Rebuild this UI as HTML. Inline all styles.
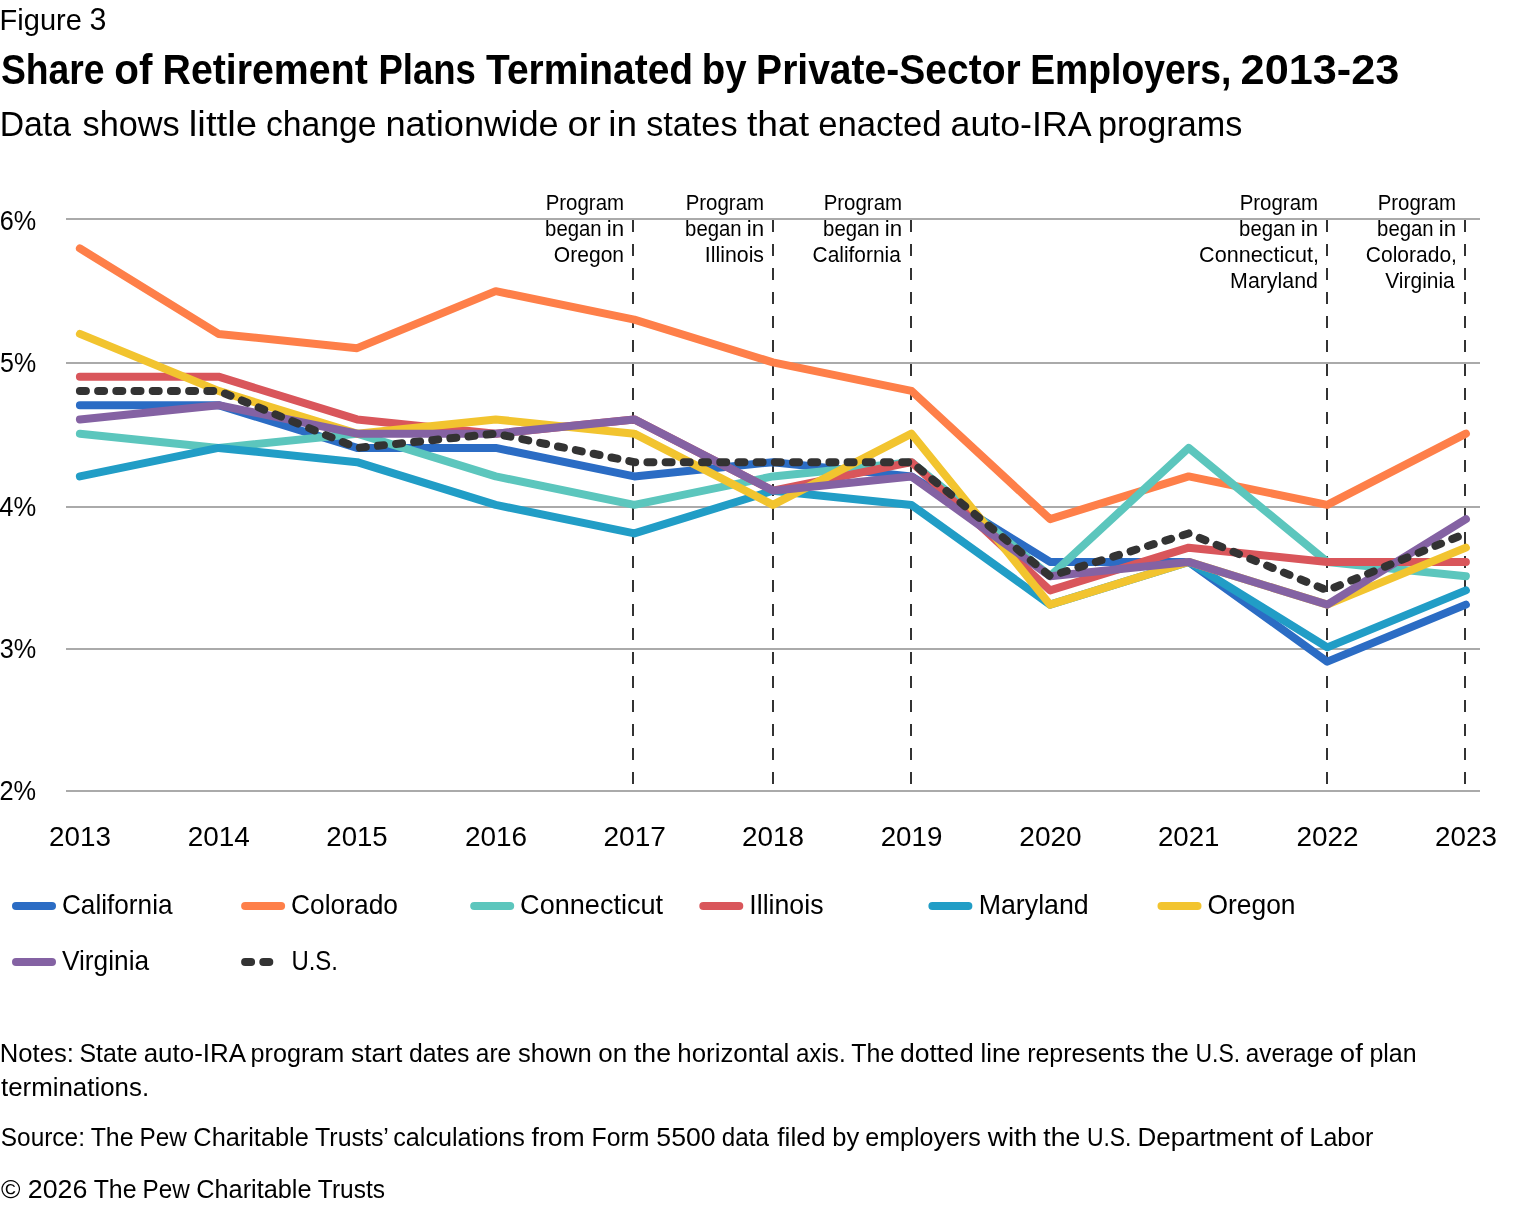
<!DOCTYPE html>
<html lang="en"><head><meta charset="utf-8"><title>Figure 3 - Share of Retirement Plans Terminated by Private-Sector Employers, 2013-23</title>
<style>
html,body{margin:0;padding:0;background:#fff}
svg{display:block}
text{fill:#000}
</style></head><body>
<svg width="1520" height="1206" viewBox="0 0 1520 1206" font-family="Liberation Sans, Arial, sans-serif">
<rect width="1520" height="1206" fill="#fff"/>
<g stroke="#333" stroke-width="2" stroke-dasharray="12 12" shape-rendering="crispEdges">
<line x1="633" x2="633" y1="220" y2="790"/>
<line x1="773" x2="773" y1="220" y2="790"/>
<line x1="911" x2="911" y1="220" y2="790"/>
<line x1="1327" x2="1327" y1="220" y2="790"/>
<line x1="1465" x2="1465" y1="220" y2="790"/>
</g>
<g stroke="#fff" stroke-width="5" stroke-linejoin="round" paint-order="stroke">
<text x="545.69" y="209.90" font-size="21.56" textLength="78.35" lengthAdjust="spacingAndGlyphs">Program</text>
<text y="235.90" font-size="21.56"><tspan x="545.10" textLength="56.49" lengthAdjust="spacingAndGlyphs">began</tspan> <tspan x="606.82" textLength="17.35" lengthAdjust="spacingAndGlyphs">in</tspan></text>
<text x="553.84" y="261.90" font-size="21.56" textLength="70.22" lengthAdjust="spacingAndGlyphs">Oregon</text>
<text x="685.69" y="209.90" font-size="21.56" textLength="78.35" lengthAdjust="spacingAndGlyphs">Program</text>
<text y="235.90" font-size="21.56"><tspan x="685.10" textLength="56.49" lengthAdjust="spacingAndGlyphs">began</tspan> <tspan x="746.82" textLength="17.35" lengthAdjust="spacingAndGlyphs">in</tspan></text>
<text x="704.83" y="261.90" font-size="21.56" textLength="59.19" lengthAdjust="spacingAndGlyphs">Illinois</text>
<text x="823.69" y="209.90" font-size="21.56" textLength="78.35" lengthAdjust="spacingAndGlyphs">Program</text>
<text y="235.90" font-size="21.56"><tspan x="823.10" textLength="56.49" lengthAdjust="spacingAndGlyphs">began</tspan> <tspan x="884.82" textLength="17.35" lengthAdjust="spacingAndGlyphs">in</tspan></text>
<text x="812.59" y="261.90" font-size="21.56" textLength="88.20" lengthAdjust="spacingAndGlyphs">California</text>
<text x="1239.69" y="209.90" font-size="21.56" textLength="78.35" lengthAdjust="spacingAndGlyphs">Program</text>
<text y="235.90" font-size="21.56"><tspan x="1239.10" textLength="56.49" lengthAdjust="spacingAndGlyphs">began</tspan> <tspan x="1300.82" textLength="17.35" lengthAdjust="spacingAndGlyphs">in</tspan></text>
<text x="1199.12" y="261.90" font-size="21.56" textLength="119.82" lengthAdjust="spacingAndGlyphs">Connecticut,</text>
<text x="1230.10" y="287.90" font-size="21.56" textLength="87.83" lengthAdjust="spacingAndGlyphs">Maryland</text>
<text x="1377.69" y="209.90" font-size="21.56" textLength="78.35" lengthAdjust="spacingAndGlyphs">Program</text>
<text y="235.90" font-size="21.56"><tspan x="1377.10" textLength="56.49" lengthAdjust="spacingAndGlyphs">began</tspan> <tspan x="1438.82" textLength="17.35" lengthAdjust="spacingAndGlyphs">in</tspan></text>
<text x="1365.86" y="261.90" font-size="21.56" textLength="91.04" lengthAdjust="spacingAndGlyphs">Colorado,</text>
<text x="1385.29" y="287.90" font-size="21.56" textLength="69.48" lengthAdjust="spacingAndGlyphs">Virginia</text>
</g>
<g fill="#aaa">
<rect x="66" y="218" width="1414" height="2"/>
<rect x="66" y="362" width="1414" height="2"/>
<rect x="66" y="506" width="1414" height="2"/>
<rect x="66" y="648" width="1414" height="2"/>
<rect x="66" y="790" width="1414" height="2"/>
</g>
<g fill="none" stroke-width="8" stroke-linecap="round" stroke-linejoin="round">
<polyline points="79.90,405.15 218.50,405.15 357.10,447.90 495.70,447.90 634.30,476.40 772.90,462.15 911.50,476.40 1050.10,561.90 1188.70,561.90 1327.30,661.65 1465.90,604.65" stroke="#2b6cc4"/>
<polyline points="79.90,248.40 218.50,333.90 357.10,348.15 495.70,291.15 634.30,319.65 772.90,362.40 911.50,390.90 1050.10,519.15 1188.70,476.40 1327.30,504.90 1465.90,433.65" stroke="#fe7f49"/>
<polyline points="79.90,433.65 218.50,447.90 357.10,433.65 495.70,476.40 634.30,504.90 772.90,476.40 911.50,462.15 1050.10,576.15 1188.70,447.90 1327.30,561.90 1465.90,576.15" stroke="#5cc6bd"/>
<polyline points="79.90,376.65 218.50,376.65 357.10,419.40 495.70,433.65 634.30,419.40 772.90,490.65 911.50,462.15 1050.10,590.40 1188.70,547.65 1327.30,561.90 1465.90,561.90" stroke="#d9565b"/>
<polyline points="79.90,476.40 218.50,447.90 357.10,462.15 495.70,504.90 634.30,533.40 772.90,490.65 911.50,504.90 1050.10,604.65 1188.70,561.90 1327.30,647.40 1465.90,590.40" stroke="#219dc6"/>
<polyline points="79.90,333.90 218.50,390.90 357.10,433.65 495.70,419.40 634.30,433.65 772.90,504.90 911.50,433.65 1050.10,604.65 1188.70,561.90 1327.30,604.65 1465.90,547.65" stroke="#f2c42f"/>
<polyline points="79.90,419.40 218.50,405.15 357.10,433.65 495.70,433.65 634.30,419.40 772.90,490.65 911.50,476.40 1050.10,576.15 1188.70,561.90 1327.30,604.65 1465.90,519.15" stroke="#8462a3"/>
<polyline points="79.90,390.90 218.50,390.90 357.10,447.90 495.70,433.65 634.30,462.15 772.90,462.15 911.50,462.15 1050.10,576.15 1188.70,533.40 1327.30,590.40 1465.90,533.40" stroke="#333333" stroke-dasharray="6 12.2"/>
</g>
<text y="29.50" font-size="30.30"><tspan x="-0.39" textLength="82.21" lengthAdjust="spacingAndGlyphs">Figure</tspan> <tspan x="89.44" font-size="31.14" textLength="16.92" lengthAdjust="spacingAndGlyphs">3</tspan></text>
<text y="83.60" font-size="41.83" font-weight="bold"><tspan x="0.88" textLength="103.67" lengthAdjust="spacingAndGlyphs">Share</tspan> <tspan x="114.30" textLength="38.15" lengthAdjust="spacingAndGlyphs">of</tspan> <tspan x="162.53" textLength="205.21" lengthAdjust="spacingAndGlyphs">Retirement</tspan> <tspan x="378.39" textLength="97.57" lengthAdjust="spacingAndGlyphs">Plans</tspan> <tspan x="486.07" textLength="207.04" lengthAdjust="spacingAndGlyphs">Terminated</tspan> <tspan x="701.76" textLength="44.82" lengthAdjust="spacingAndGlyphs">by</tspan> <tspan x="756.12" textLength="264.59" lengthAdjust="spacingAndGlyphs">Private-Sector</tspan> <tspan x="1030.25" textLength="201.00" lengthAdjust="spacingAndGlyphs">Employers,</tspan> <tspan x="1240.62" font-size="42.99" textLength="158.75" lengthAdjust="spacingAndGlyphs">2013-23</tspan></text>
<text y="135.80" font-size="35.74"><tspan x="-0.28" textLength="71.28" lengthAdjust="spacingAndGlyphs">Data</tspan> <tspan x="82.49" textLength="97.21" lengthAdjust="spacingAndGlyphs">shows</tspan> <tspan x="188.85" textLength="68.26" lengthAdjust="spacingAndGlyphs">little</tspan> <tspan x="265.90" textLength="110.60" lengthAdjust="spacingAndGlyphs">change</tspan> <tspan x="385.44" textLength="173.27" lengthAdjust="spacingAndGlyphs">nationwide</tspan> <tspan x="567.41" textLength="33.39" lengthAdjust="spacingAndGlyphs">or</tspan> <tspan x="608.22" textLength="28.76" lengthAdjust="spacingAndGlyphs">in</tspan> <tspan x="646.20" textLength="91.32" lengthAdjust="spacingAndGlyphs">states</tspan> <tspan x="746.96" textLength="62.04" lengthAdjust="spacingAndGlyphs">that</tspan> <tspan x="818.14" textLength="123.48" lengthAdjust="spacingAndGlyphs">enacted</tspan> <tspan x="950.55" textLength="139.09" lengthAdjust="spacingAndGlyphs">auto-IRA</tspan> <tspan x="1097.88" textLength="144.36" lengthAdjust="spacingAndGlyphs">programs</tspan></text>
<text x="-0.29" y="230.00" font-size="27.77" textLength="36.46" lengthAdjust="spacingAndGlyphs">6%</text>
<text x="0.04" y="372.00" font-size="27.77" textLength="36.12" lengthAdjust="spacingAndGlyphs">5%</text>
<text x="-0.74" y="515.75" font-size="27.77" textLength="36.92" lengthAdjust="spacingAndGlyphs">4%</text>
<text x="-0.31" y="657.70" font-size="27.77" textLength="36.48" lengthAdjust="spacingAndGlyphs">3%</text>
<text x="-0.50" y="799.80" font-size="27.77" textLength="36.67" lengthAdjust="spacingAndGlyphs">2%</text>
<text x="49.11" y="846.00" font-size="27.77" textLength="61.84" lengthAdjust="spacingAndGlyphs">2013</text>
<text x="187.70" y="846.00" font-size="27.77" textLength="62.17" lengthAdjust="spacingAndGlyphs">2014</text>
<text x="326.32" y="846.00" font-size="27.77" textLength="61.42" lengthAdjust="spacingAndGlyphs">2015</text>
<text x="464.90" y="846.00" font-size="27.77" textLength="62.19" lengthAdjust="spacingAndGlyphs">2016</text>
<text x="603.49" y="846.00" font-size="27.77" textLength="62.48" lengthAdjust="spacingAndGlyphs">2017</text>
<text x="742.10" y="846.00" font-size="27.77" textLength="62.05" lengthAdjust="spacingAndGlyphs">2018</text>
<text x="880.71" y="846.00" font-size="27.77" textLength="61.70" lengthAdjust="spacingAndGlyphs">2019</text>
<text x="1019.29" y="846.00" font-size="27.77" textLength="62.39" lengthAdjust="spacingAndGlyphs">2020</text>
<text x="1157.91" y="846.00" font-size="27.77" textLength="61.57" lengthAdjust="spacingAndGlyphs">2021</text>
<text x="1296.50" y="846.00" font-size="27.77" textLength="62.06" lengthAdjust="spacingAndGlyphs">2022</text>
<text x="1435.11" y="846.00" font-size="27.77" textLength="61.84" lengthAdjust="spacingAndGlyphs">2023</text>
<line x1="16.00" x2="52.00" y1="906" y2="906" stroke="#2b6cc4" stroke-width="8" stroke-linecap="round"/>
<text x="61.96" y="913.70" font-size="27.02" textLength="110.56" lengthAdjust="spacingAndGlyphs">California</text>
<line x1="245.10" x2="281.10" y1="906" y2="906" stroke="#fe7f49" stroke-width="8" stroke-linecap="round"/>
<text x="291.05" y="913.70" font-size="27.02" textLength="106.99" lengthAdjust="spacingAndGlyphs">Colorado</text>
<line x1="474.20" x2="510.20" y1="906" y2="906" stroke="#5cc6bd" stroke-width="8" stroke-linecap="round"/>
<text x="520.11" y="913.70" font-size="27.02" textLength="143.03" lengthAdjust="spacingAndGlyphs">Connecticut</text>
<line x1="703.30" x2="739.30" y1="906" y2="906" stroke="#d9565b" stroke-width="8" stroke-linecap="round"/>
<text x="749.30" y="913.70" font-size="27.02" textLength="74.20" lengthAdjust="spacingAndGlyphs">Illinois</text>
<line x1="932.40" x2="968.40" y1="906" y2="906" stroke="#219dc6" stroke-width="8" stroke-linecap="round"/>
<text x="978.66" y="913.70" font-size="27.02" textLength="110.09" lengthAdjust="spacingAndGlyphs">Maryland</text>
<line x1="1161.50" x2="1197.50" y1="906" y2="906" stroke="#f2c42f" stroke-width="8" stroke-linecap="round"/>
<text x="1207.51" y="913.70" font-size="27.02" textLength="88.02" lengthAdjust="spacingAndGlyphs">Oregon</text>
<line x1="16.00" x2="52.00" y1="962" y2="962" stroke="#8462a3" stroke-width="8" stroke-linecap="round"/>
<text x="62.00" y="969.70" font-size="27.02" textLength="87.09" lengthAdjust="spacingAndGlyphs">Virginia</text>
<line x1="245.10" x2="281.10" y1="962" y2="962" stroke="#333333" stroke-width="8" stroke-linecap="round" stroke-dasharray="6 12.2"/>
<text x="291.45" y="969.70" font-size="27.02" textLength="46.52" lengthAdjust="spacingAndGlyphs">U.S.</text>
<text y="1061.50" font-size="25.92"><tspan x="-0.21" textLength="74.04" lengthAdjust="spacingAndGlyphs">Notes:</tspan> <tspan x="79.40" textLength="58.08" lengthAdjust="spacingAndGlyphs">State</tspan> <tspan x="143.70" textLength="100.90" lengthAdjust="spacingAndGlyphs">auto-IRA</tspan> <tspan x="250.55" textLength="93.73" lengthAdjust="spacingAndGlyphs">program</tspan> <tspan x="350.97" textLength="51.25" lengthAdjust="spacingAndGlyphs">start</tspan> <tspan x="408.91" textLength="60.48" lengthAdjust="spacingAndGlyphs">dates</tspan> <tspan x="475.87" textLength="35.32" lengthAdjust="spacingAndGlyphs">are</tspan> <tspan x="517.89" textLength="73.92" lengthAdjust="spacingAndGlyphs">shown</tspan> <tspan x="598.37" textLength="28.92" lengthAdjust="spacingAndGlyphs">on</tspan> <tspan x="633.94" textLength="37.01" lengthAdjust="spacingAndGlyphs">the</tspan> <tspan x="677.30" textLength="112.06" lengthAdjust="spacingAndGlyphs">horizontal</tspan> <tspan x="795.91" textLength="49.73" lengthAdjust="spacingAndGlyphs">axis.</tspan> <tspan x="851.26" textLength="43.01" lengthAdjust="spacingAndGlyphs">The</tspan> <tspan x="899.91" textLength="73.88" lengthAdjust="spacingAndGlyphs">dotted</tspan> <tspan x="980.57" textLength="40.08" lengthAdjust="spacingAndGlyphs">line</tspan> <tspan x="1027.13" textLength="117.82" lengthAdjust="spacingAndGlyphs">represents</tspan> <tspan x="1151.77" textLength="37.01" lengthAdjust="spacingAndGlyphs">the</tspan> <tspan x="1195.49" textLength="44.63" lengthAdjust="spacingAndGlyphs">U.S.</tspan> <tspan x="1245.83" textLength="87.65" lengthAdjust="spacingAndGlyphs">average</tspan> <tspan x="1339.84" textLength="22.98" lengthAdjust="spacingAndGlyphs">of</tspan> <tspan x="1369.40" textLength="47.19" lengthAdjust="spacingAndGlyphs">plan</tspan></text>
<text x="0.99" y="1096.00" font-size="25.86" textLength="148.09" lengthAdjust="spacingAndGlyphs">terminations.</text>
<text y="1145.60" font-size="25.88"><tspan x="0.80" textLength="84.14" lengthAdjust="spacingAndGlyphs">Source:</tspan> <tspan x="90.65" textLength="42.94" lengthAdjust="spacingAndGlyphs">The</tspan> <tspan x="139.62" textLength="47.28" lengthAdjust="spacingAndGlyphs">Pew</tspan> <tspan x="193.37" textLength="115.39" lengthAdjust="spacingAndGlyphs">Charitable</tspan> <tspan x="315.04" textLength="72.94" lengthAdjust="spacingAndGlyphs">Trusts’</tspan> <tspan x="393.24" textLength="131.48" lengthAdjust="spacingAndGlyphs">calculations</tspan> <tspan x="531.54" textLength="53.14" lengthAdjust="spacingAndGlyphs">from</tspan> <tspan x="591.51" textLength="57.82" lengthAdjust="spacingAndGlyphs">Form</tspan> <tspan x="656.33" font-size="26.59" textLength="59.21" lengthAdjust="spacingAndGlyphs">5500</tspan> <tspan x="721.85" textLength="47.09" lengthAdjust="spacingAndGlyphs">data</tspan> <tspan x="777.33" textLength="48.18" lengthAdjust="spacingAndGlyphs">filed</tspan> <tspan x="832.26" textLength="26.94" lengthAdjust="spacingAndGlyphs">by</tspan> <tspan x="865.24" textLength="115.49" lengthAdjust="spacingAndGlyphs">employers</tspan> <tspan x="987.83" textLength="49.39" lengthAdjust="spacingAndGlyphs">with</tspan> <tspan x="1043.25" textLength="36.95" lengthAdjust="spacingAndGlyphs">the</tspan> <tspan x="1086.89" textLength="44.56" lengthAdjust="spacingAndGlyphs">U.S.</tspan> <tspan x="1137.57" textLength="135.75" lengthAdjust="spacingAndGlyphs">Department</tspan> <tspan x="1279.89" textLength="22.94" lengthAdjust="spacingAndGlyphs">of</tspan> <tspan x="1309.53" textLength="63.88" lengthAdjust="spacingAndGlyphs">Labor</tspan></text>
<text y="1197.60" font-size="25.86"><tspan x="1.08" textLength="19.49" lengthAdjust="spacingAndGlyphs">©</tspan> <tspan x="27.86" font-size="26.57" textLength="59.51" lengthAdjust="spacingAndGlyphs">2026</tspan> <tspan x="93.63" textLength="42.90" lengthAdjust="spacingAndGlyphs">The</tspan> <tspan x="142.56" textLength="47.24" lengthAdjust="spacingAndGlyphs">Pew</tspan> <tspan x="196.26" textLength="115.29" lengthAdjust="spacingAndGlyphs">Charitable</tspan> <tspan x="317.83" textLength="67.16" lengthAdjust="spacingAndGlyphs">Trusts</tspan></text>
</svg>
</body></html>
